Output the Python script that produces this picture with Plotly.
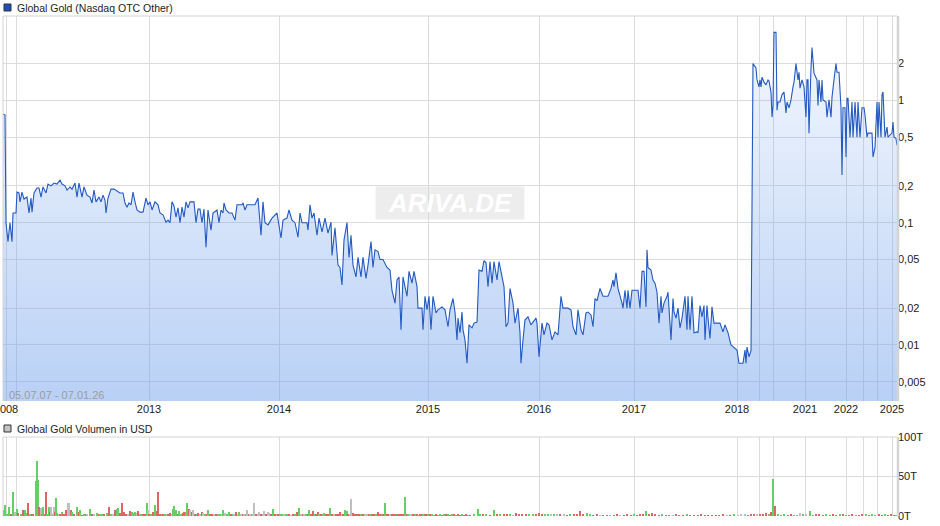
import plotly.graph_objects as go

# ---------------- data ----------------
# trade number (position on the session axis) and closing price in USD
price_session = [
    3, 5, 6, 8, 10, 12, 13, 16, 17, 19,
    20, 22, 24, 27, 29, 31, 32, 34, 37, 39,
    41, 43, 46, 48, 51, 54, 57, 60, 62, 65,
    67, 70, 72, 75, 77, 79, 82, 84, 87, 90,
    92, 94, 96, 99, 101, 103, 105, 106, 108, 111,
    114, 118, 120, 123, 125, 127, 129, 131, 133, 135,
    137, 140, 143, 146, 148, 150, 152, 155, 158, 160,
    163, 166, 168, 170, 172, 174, 176, 178, 180, 182,
    184, 186, 188, 190, 194, 196, 198, 200, 202, 204,
    206, 208, 211, 213, 217, 219, 221, 223, 224, 226,
    229, 232, 235, 237, 242, 243, 245, 247, 255, 258,
    261, 263, 265, 268, 272, 277, 278, 281, 283, 287,
    289, 292, 295, 298, 300, 302, 307, 308, 310, 312,
    314, 317, 319, 322, 325, 328, 331, 332, 335, 338,
    340, 342, 344, 347, 349, 351, 353, 356, 358, 361,
    363, 366, 368, 371, 373, 375, 378, 380, 383, 387,
    390, 392, 395, 397, 399, 401, 403, 407, 409, 412,
    414, 417, 418, 422, 423, 425, 427, 429, 431, 433,
    436, 438, 442, 445, 448, 450, 453, 455, 457, 458,
    460, 462, 463, 465, 467, 469, 472, 474, 477, 479,
    482, 484, 486, 488, 490, 492, 494, 497, 499, 502,
    504, 506, 508, 510, 513, 515, 518, 520, 521, 523,
    525, 528, 531, 533, 536, 537, 539, 542, 544, 547,
    549, 552, 555, 558, 561, 563, 568, 571, 573, 576,
    578, 581, 583, 586, 588, 591, 593, 595, 597, 600,
    603, 608, 611, 613, 614, 616, 618, 622, 623, 625,
    627, 628, 630, 632, 638, 640, 642, 644, 646, 647,
    648, 651, 653, 655, 657, 659, 661, 662, 664, 667,
    668, 671, 673, 674, 676, 678, 680, 682, 683, 685,
    687, 688, 690, 692, 694, 697, 698, 700, 702, 704,
    705, 707, 708, 710, 712, 714, 720, 723, 725, 728,
    731, 734, 737, 739, 743, 745, 746, 747, 749, 751,
    753, 756, 757, 759, 760, 761, 762, 764, 766, 768,
    769, 771, 772, 773, 774, 776, 777, 778, 780, 782,
    784, 786, 787, 789, 791, 793, 794, 796, 798, 799,
    800, 802, 804, 806, 807, 808, 809, 811, 812, 814,
    816, 817, 818, 819, 821, 822, 823, 826, 827, 829,
    831, 832, 834, 836, 837, 839, 841, 842, 843, 845,
    846, 847, 848, 850, 852, 853, 855, 857, 858, 860,
    862, 864, 865, 867, 868, 872, 873, 875, 877, 878,
    879, 881, 882, 883, 885, 887, 888, 890, 892, 893,
    894, 896, 897,
]
price_usd = [
    0.77, 0.76, 0.10, 0.070, 0.10, 0.070, 0.12, 0.12, 0.178, 0.175,
    0.148, 0.178, 0.156, 0.162, 0.12, 0.159, 0.122, 0.175, 0.192, 0.192,
    0.162, 0.196, 0.175, 0.207, 0.20, 0.211, 0.207, 0.223, 0.207, 0.20,
    0.185, 0.196, 0.188, 0.211, 0.162, 0.211, 0.162, 0.196, 0.168, 0.162,
    0.145, 0.185, 0.148, 0.162, 0.148, 0.168, 0.153, 0.12, 0.159, 0.188,
    0.188, 0.181, 0.175, 0.175, 0.145, 0.134, 0.145, 0.140, 0.178, 0.148,
    0.127, 0.122, 0.122, 0.159, 0.140, 0.148, 0.127, 0.148, 0.140, 0.12,
    0.116, 0.101, 0.105, 0.10, 0.148, 0.137, 0.111, 0.132, 0.10, 0.134,
    0.111, 0.148, 0.132, 0.148, 0.148, 0.10, 0.129, 0.129, 0.10, 0.129,
    0.063, 0.127, 0.087, 0.12, 0.127, 0.10, 0.127, 0.12, 0.145, 0.127,
    0.12, 0.12, 0.105, 0.140, 0.140, 0.145, 0.127, 0.140, 0.140, 0.159,
    0.079, 0.148, 0.10, 0.096, 0.109, 0.12, 0.105, 0.075, 0.105, 0.109,
    0.127, 0.105, 0.10, 0.076, 0.12, 0.10, 0.10, 0.087, 0.140, 0.109,
    0.12, 0.079, 0.109, 0.084, 0.109, 0.082, 0.101, 0.054, 0.091, 0.045,
    0.043, 0.031, 0.072, 0.10, 0.052, 0.079, 0.045, 0.036, 0.052, 0.036,
    0.052, 0.035, 0.045, 0.070, 0.043, 0.060, 0.058, 0.050, 0.050, 0.043,
    0.041, 0.028, 0.022, 0.034, 0.036, 0.0133, 0.036, 0.025, 0.040, 0.032,
    0.040, 0.030, 0.020, 0.020, 0.0133, 0.025, 0.0194, 0.025, 0.0133, 0.025,
    0.0183, 0.0194, 0.0205, 0.0194, 0.0141, 0.0194, 0.024, 0.0186, 0.011, 0.0166,
    0.0126, 0.0186, 0.0133, 0.011, 0.0071, 0.0146, 0.0138, 0.0151, 0.0154, 0.041,
    0.040, 0.049, 0.047, 0.030, 0.048, 0.032, 0.048, 0.034, 0.048, 0.035,
    0.030, 0.0141, 0.0151, 0.029, 0.022, 0.0151, 0.020, 0.0126, 0.0071, 0.011,
    0.016, 0.017, 0.0146, 0.0154, 0.0166, 0.0151, 0.0080, 0.0151, 0.0121, 0.0151,
    0.0146, 0.011, 0.0128, 0.0121, 0.025, 0.020, 0.020, 0.0194, 0.0141, 0.0121,
    0.0194, 0.0133, 0.0121, 0.0183, 0.0186, 0.0176, 0.0141, 0.024, 0.023, 0.029,
    0.025, 0.025, 0.029, 0.034, 0.030, 0.039, 0.029, 0.022, 0.020, 0.028,
    0.020, 0.028, 0.020, 0.028, 0.028, 0.020, 0.040, 0.040, 0.0205, 0.060,
    0.043, 0.041, 0.034, 0.032, 0.027, 0.0151, 0.025, 0.0183, 0.022, 0.025,
    0.027, 0.011, 0.024, 0.0186, 0.0166, 0.020, 0.0138, 0.0166, 0.0194, 0.025,
    0.0133, 0.025, 0.0133, 0.025, 0.0126, 0.0128, 0.0126, 0.021, 0.017, 0.021,
    0.011, 0.021, 0.0166, 0.0113, 0.0205, 0.0151, 0.0151, 0.0128, 0.0146, 0.0126,
    0.010, 0.0096, 0.0091, 0.0071, 0.0071, 0.0091, 0.0071, 0.0096, 0.0080, 0.0090,
    2.0, 1.84, 1.47, 1.29, 1.47, 1.29, 1.55, 1.41, 1.34, 1.47,
    1.44, 1.17, 0.73, 0.91, 3.6, 3.6, 0.83, 0.97, 0.97, 1.11,
    1.17, 0.79, 0.97, 0.87, 1.01, 1.29, 1.41, 2.0, 1.47, 1.7,
    1.26, 1.47, 1.29, 0.73, 1.47, 1.47, 0.54, 1.84, 2.7, 1.67,
    1.55, 1.47, 0.91, 1.47, 0.97, 1.47, 1.01, 0.97, 0.73, 1.01,
    0.73, 1.06, 1.47, 2.0, 1.7, 1.7, 0.87, 0.245, 0.87, 0.87,
    0.344, 1.04, 1.04, 0.50, 0.97, 0.50, 0.97, 0.50, 0.97, 0.50,
    0.87, 0.87, 0.76, 0.50, 0.54, 0.54, 0.344, 0.415, 0.97, 0.50,
    0.97, 0.50, 1.11, 1.17, 0.50, 0.605, 0.50, 0.52, 0.54, 0.665,
    0.50, 0.49, 0.43,
]

# volume in trillions of USD ("T") per session, with day direction (g=up, r=down, n=unchanged)
vol_session = [
    4, 5, 7, 9, 11, 13, 15, 17, 18, 21,
    23, 25, 27, 28, 30, 32, 33, 36, 37, 38,
    39, 41, 42, 43, 45, 46, 47, 49, 50, 51,
    53, 54, 55, 56, 57, 59, 60, 62, 63, 65,
    66, 68, 69, 71, 72, 74, 77, 79, 80, 82,
    84, 86, 87, 90, 92, 94, 97, 99, 100, 102,
    104, 107, 109, 111, 113, 115, 117, 118, 120, 122,
    124, 126, 128, 130, 132, 133, 135, 137, 138, 140,
    142, 143, 145, 147, 148, 149, 151, 153, 155, 157,
    158, 160, 162, 163, 165, 167, 168, 170, 172, 173,
    174, 176, 178, 179, 181, 183, 184, 186, 187, 189,
    190, 192, 193, 195, 197, 198, 200, 202, 203, 205,
    207, 208, 210, 212, 214, 216, 218, 220, 222, 223,
    225, 227, 229, 231, 233, 234, 236, 238, 239, 241,
    243, 244, 246, 247, 249, 250, 252, 253, 254, 256,
    258, 259, 261, 263, 264, 266, 268, 269, 271, 273,
    275, 277, 278, 280, 282, 284, 286, 288, 289, 291,
    293, 295, 297, 299, 301, 303, 304, 306, 308, 309,
    311, 313, 315, 316, 318, 319, 321, 323, 324, 326,
    328, 330, 332, 334, 336, 338, 340, 342, 343, 345,
    347, 348, 350, 351, 353, 354, 356, 358, 359, 361,
    363, 365, 367, 369, 370, 372, 374, 376, 378, 380,
    382, 383, 385, 387, 389, 390, 392, 393, 395, 397,
    398, 400, 402, 403, 405, 407, 408, 410, 412, 413,
    415, 417, 418, 420, 422, 423, 425, 427, 428, 430,
    432, 434, 436, 438, 440, 442, 444, 446, 448, 450,
    452, 454, 456, 458, 460, 462, 464, 466, 468,
    470, 474, 478, 480, 483, 486, 490, 494, 497, 500,
    504, 507, 510, 513, 516, 519, 522, 526, 529, 533,
    536, 539, 542, 545, 548, 551, 554, 557, 560, 564,
    567, 570, 574, 577, 580, 583, 587, 590, 593, 597,
    600, 603, 607, 610, 614, 617, 620, 624, 627, 631,
    634, 637, 640, 643, 646, 649, 652, 655, 659, 662,
    666, 669, 673, 676, 679, 683, 687, 690, 694, 698,
    701, 705, 708, 712, 716, 719, 723, 727, 730, 734,
    738, 741, 745, 748, 751, 754, 757, 760, 763, 766,
    769, 771, 773, 775, 778, 781, 784, 788, 791, 794,
    797, 800, 803, 806, 810, 813, 816, 819, 823, 826,
    830, 833, 836, 840, 843, 846, 849, 852, 856, 859,
    862, 866, 869, 872, 875, 879, 882, 885, 888, 891,
    894, 896,
]
vol_tn = [
    8, 14, 3, 11, 2, 31, 5, 9, 4, 2,
    7, 7, 4, 17, 3, 2, 2, 44, 69, 45,
    12, 10, 2, 11, 2, 30, 3, 11, 5, 12,
    3, 12, 5, 23, 4, 3, 2, 5, 3, 2,
    7, 17, 17, 7, 5, 2, 12, 5, 8, 1,
    2, 3, 2, 9, 2, 3, 4, 2, 3, 2,
    2, 4, 11, 2, 3, 8, 9, 10, 4, 17,
    5, 3, 3, 6, 5, 4, 5, 4, 6, 3,
    3, 2, 3, 16, 8, 2, 3, 5, 14, 6,
    31, 3, 2, 2, 3, 2, 2, 4, 3, 9,
    13, 7, 3, 6, 2, 4, 5, 5, 17, 9,
    8, 5, 7, 2, 3, 4, 3, 5, 4, 3,
    2, 8, 2, 3, 2, 2, 2, 2, 3, 8,
    4, 3, 5, 2, 2, 2, 5, 2, 5, 2,
    2, 3, 2, 8, 3, 2, 2, 3, 16, 3,
    2, 5, 2, 2, 6, 3, 5, 4, 3, 9,
    2, 2, 3, 2, 2, 2, 3, 2, 3, 1,
    2, 3, 5, 10, 2, 3, 3, 2, 2, 7,
    2, 6, 2, 3, 5, 2, 2, 3, 4, 2,
    2, 10, 2, 2, 3, 2, 5, 2, 3, 8,
    6, 2, 2, 22, 4, 2, 2, 3, 2, 2,
    2, 2, 2, 2, 3, 2, 2, 2, 5, 2,
    2, 3, 16, 2, 2, 2, 2, 2, 2, 2,
    2, 2, 2, 2, 24, 2, 2, 2, 3, 2,
    2, 2, 1, 2, 2, 2, 2, 3, 3, 2,
    2, 1, 2, 1, 2, 1, 2, 2, 2, 1,
    2, 2, 1, 2, 1, 2, 1, 2, 1,
    1, 2, 9, 3, 2, 2, 1, 8, 2, 2,
    2, 3, 2, 1, 4, 2, 3, 2, 2, 3,
    2, 4, 2, 3, 2, 3, 2, 3, 2, 2,
    1, 2, 3, 2, 6, 3, 4, 2, 1, 2,
    1, 1, 1, 1, 1, 2, 1, 1, 2, 1,
    2, 1, 2, 3, 6, 3, 4, 2, 1, 3,
    1, 1, 1, 2, 1, 1, 2, 1, 1, 1,
    2, 1, 1, 1, 1, 1, 2, 1, 1, 2,
    1, 2, 2, 1, 2, 3, 2, 3, 3, 4,
    3, 5, 47, 13, 2, 1, 2, 1, 2, 1,
    1, 4, 2, 2, 6, 1, 2, 2, 1, 2,
    1, 2, 1, 2, 2, 1, 1, 2, 1, 1,
    3, 2, 1, 2, 1, 2, 1, 2, 1, 2,
    1, 1,
]
vol_dir = (
    "rgggrgngrg" "rggrgrrggg" "rnrgrrggrn" "gnrggnrgrr" "rnnrgrgrgr"
    "grngrngrgg" "rgrgnrggrr" "rrnrgggnrg" "grrgnrgrgr" "rrgrgnrrng"
    "ggrggrrggr" "nrnrgrnrng" "rgrrnrggng" "nggrgnrngn" "rngnrngnnr"
    "nnrnnrnnrg" "rnrggnggrn" "rgrgnrngrg" "rrgrrgrggr" "rgrnrrrnrg"
    "grnnrrrrrg" "rnnrgrrgrr" "grgrrnrrrg" "rrrrgrgnnr" "grgrrgrrgr"
    "ggrggrgrgr" "grgrrgrrg"
    "rgggrgrgrg" "rrgnrrrrgg" "rrrggngnrn" "rgrrrrggrr" "nrrnrrnrrr"
    "grrrgrrrrg" "rrnrrrgrrr" "rrrrrrrnrg" "nnnrrrnrrr" "grgrgggrrg"
    "gngnggrrrg" "grrgrgrrgr" "rgrggrrgrr" "rg"
)

# axis ticks (session positions of year starts, plus unlabeled year gridlines)
x_tick_pos = [3, 6, 16, 149, 279, 428, 539, 634, 737, 759, 773, 805, 846, 863, 877, 892]
x_tick_lbl = ["", "2008", "", "2013", "2014", "2015", "2016", "2017", "2018", "", "", "2021", "2022", "", "", "2025"]
y_tick_val = [0.005, 0.01, 0.02, 0.05, 0.1, 0.2, 0.5, 1, 2]
y_tick_lbl = ["0,005", "0,01", "0,02", "0,05", "0,1", "0,2", "0,5", "1", "2"]
v_tick_val = [0, 50, 100]
v_tick_lbl = ["0T", "50T", "100T"]

title_price = "Global Gold (Nasdaq OTC Other)"
title_volume = "Global Gold Volumen in USD"
date_range = "05.07.07 - 07.01.26"

assert len(price_session) == len(price_usd)
assert len(vol_session) == len(vol_tn) == len(vol_dir), (len(vol_session), len(vol_tn), len(vol_dir))

# ---------------- layout helpers ----------------
W, H = 940, 526
ML, MR, MT, MB = 3, 43, 16, 10
PW = W - ML - MR
PH = H - MT - MB


def px_x(px):
    return (px - ML) / PW


def px_y(py):
    return (H - MB - py) / PH


FONT = "Liberation Sans, Arial, sans-serif"
GRID = "#dcdcdc"
BORDER = "#d4d4d4"
dir_color = {"g": "#62d062", "r": "#e06464", "n": "#bfbfbf"}

price_dom = [round(px_y(401), 4), 1.0]
vol_dom = [0.0, round(px_y(437), 4)]

fig = go.Figure()

# baseline for the area fill (below the visible range)
fig.add_trace(go.Scatter(
    x=[price_session[0], price_session[-1]], y=[0.003, 0.003],
    mode="lines", line=dict(width=0, color="rgba(0,0,0,0)"),
    hoverinfo="skip", showlegend=False, xaxis="x", yaxis="y",
))
fig.add_trace(go.Scatter(
    x=price_session, y=price_usd, mode="lines",
    line=dict(color="#2259c2", width=1.1),
    fill="tonexty",
    fillgradient=dict(type="vertical",
                      colorscale=[[0, "rgba(112,160,236,0.50)"],
                                  [1, "rgba(112,160,236,0.08)"]]),
    showlegend=False, xaxis="x", yaxis="y",
))
fig.add_trace(go.Bar(
    x=vol_session, y=vol_tn,
    marker=dict(color=[dir_color[d] for d in vol_dir], line=dict(width=0)),
    width=1.3, showlegend=False, xaxis="x2", yaxis="y2",
))

axis_font = dict(family=FONT, size=11, color="#222222")

fig.update_layout(
    width=W, height=H,
    margin=dict(l=ML, r=MR, t=MT, b=MB, pad=0, autoexpand=False),
    paper_bgcolor="white", plot_bgcolor="white",
    showlegend=False, bargap=0,
    font=dict(family=FONT, size=11, color="#222222"),
    xaxis=dict(domain=[0, 1], anchor="y", range=[3, 897], automargin=False,
               tickmode="array", tickvals=x_tick_pos, ticktext=x_tick_lbl,
               showgrid=True, gridcolor=GRID, gridwidth=1, zeroline=False,
               ticks="", showline=False, tickfont=axis_font,
               ticklabeloverflow="allow"),
    xaxis2=dict(domain=[0, 1], anchor="y2", matches="x", range=[3, 897], automargin=False,
                tickmode="array", tickvals=x_tick_pos, ticktext=x_tick_lbl,
                showgrid=True, gridcolor=GRID, gridwidth=1, zeroline=False,
                ticks="", showticklabels=False, showline=False),
    yaxis=dict(domain=price_dom, anchor="x", type="log", automargin=False,
               range=[-2.458, 0.690], side="right",
               tickmode="array", tickvals=y_tick_val, ticktext=y_tick_lbl,
               showgrid=True, gridcolor=GRID, gridwidth=1, zeroline=False,
               ticks="", showline=False, tickfont=axis_font,
               ticklabeloverflow="allow"),
    yaxis2=dict(domain=vol_dom, anchor="x2", range=[0, 100], side="right", automargin=False,
                tickmode="array", tickvals=v_tick_val, ticktext=v_tick_lbl,
                showgrid=True, gridcolor=GRID, gridwidth=1, zeroline=False,
                ticks="", showline=False, tickfont=axis_font,
                ticklabeloverflow="allow"),
)

shapes = [
    # price panel frame (top, left, right)
    dict(type="line", xref="paper", yref="paper", x0=0, x1=1, y0=1, y1=1,
         line=dict(color=BORDER, width=1)),
    dict(type="line", xref="paper", yref="paper", x0=0, x1=0, y0=price_dom[0], y1=1,
         line=dict(color=BORDER, width=1)),
    dict(type="line", xref="paper", yref="paper", x0=px_x(898), x1=px_x(898), y0=price_dom[0], y1=1,
         line=dict(color=BORDER, width=2.5)),
    # volume panel frame
    dict(type="line", xref="paper", yref="paper", x0=0, x1=1, y0=vol_dom[1], y1=vol_dom[1],
         line=dict(color=BORDER, width=1)),
    dict(type="line", xref="paper", yref="paper", x0=0, x1=0, y0=0, y1=vol_dom[1],
         line=dict(color=BORDER, width=1)),
    dict(type="line", xref="paper", yref="paper", x0=px_x(898), x1=px_x(898), y0=0, y1=vol_dom[1],
         line=dict(color=BORDER, width=2.5)),
    # legend squares
    dict(type="rect", xref="paper", yref="paper",
         x0=px_x(4), x1=px_x(11), y0=px_y(11), y1=px_y(4),
         fillcolor="#1f4fb4", line=dict(color="#333333", width=1)),
    dict(type="rect", xref="paper", yref="paper",
         x0=px_x(4), x1=px_x(11), y0=px_y(432), y1=px_y(425),
         fillcolor="#c4c4c4", line=dict(color="#333333", width=1)),
]
fig.update_layout(shapes=shapes)

annotations = [
    dict(text=title_price, xref="paper", yref="paper", x=px_x(15), y=px_y(7.5),
         xanchor="left", yanchor="middle", showarrow=False,
         font=dict(family=FONT, size=10.5, color="#222222")),
    dict(text=title_volume, xref="paper", yref="paper", x=px_x(15), y=px_y(428.5),
         xanchor="left", yanchor="middle", showarrow=False,
         font=dict(family=FONT, size=10.5, color="#222222")),
    dict(text=date_range, xref="paper", yref="paper", x=px_x(7), y=px_y(395),
         xanchor="left", yanchor="middle", showarrow=False,
         font=dict(family=FONT, size=11, color="#9c9c9c")),
    dict(text="<b><i>ARIVA.DE</i></b>", xref="paper", yref="paper",
         x=px_x(450), y=px_y(203), xanchor="center", yanchor="middle",
         showarrow=False, width=146, height=30, bgcolor="rgba(210,210,210,0.40)",
         font=dict(family=FONT, size=26, color="white")),
]
fig.update_layout(annotations=annotations)

fig.write_html(
    "out.html",
    config={"displayModeBar": False},
    post_script="document.body.style.margin='0';document.body.style.padding='0';",
)
